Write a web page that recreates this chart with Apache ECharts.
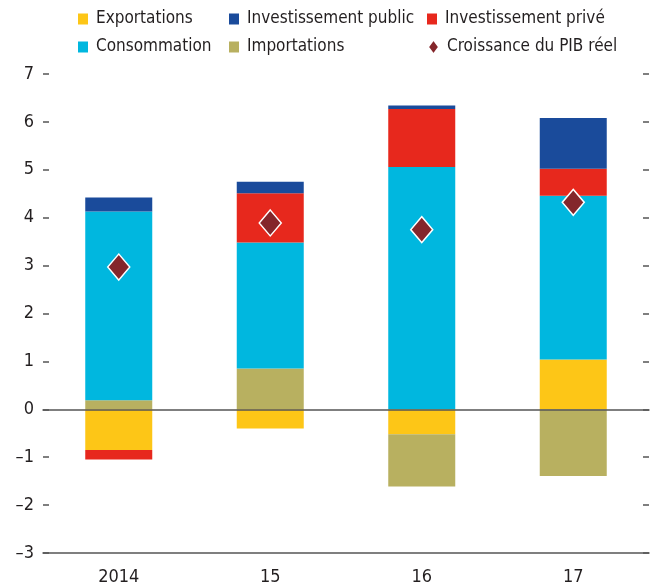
<!DOCTYPE html>
<html>
<head>
<meta charset="utf-8">
<script src="https://cdn.jsdelivr.net/npm/echarts@6/dist/echarts.min.js"></script>
<style>
  html, body { margin: 0; padding: 0; background: #fff; }
  #chart { width: 654px; height: 586px; }
</style>
</head>
<body>
<div id="chart"></div>
<script>
var years = ['2014', '15', '16', '17']
var exportations = [-0.85, -0.40, -0.52, 1.04]
var importations = [0.19, 0.85, -1.09, -1.39]
var consommation = [3.94, 2.63, 5.06, 3.42]
var investPrive = [-0.20, 1.03, 1.21, 0.56]
var investPublic = [0.29, 0.24, 0.07, 1.06]
var pibReel = [2.97, 3.89, 3.75, 4.32]

var font = '"DejaVu Sans Condensed", "Liberation Sans Narrow", sans-serif'
var textColor = '#231f20'

function dash(v) {
  return String(v).replace('-', '\u2013')
}

var chart = echarts.init(document.getElementById('chart'))

var legendText = {
  fontFamily: font,
  fontSize: 17,
  lineHeight: 20,
  color: textColor,
  padding: [0, 0, 0, 3]
}

// one legend per cell so the columns line up like the original
function legendCell(name, left, top, icon, w, h) {
  return {
    left: left,
    top: top,
    itemWidth: w || 10,
    itemHeight: h || 11,
    icon: icon || 'rect',
    textStyle: legendText,
    data: [name]
  }
}

function barSeries(name, data, color) {
  return {
    name: name,
    type: 'bar',
    stack: 'total',
    barWidth: 67,
    itemStyle: { color: color },
    data: data
  }
}

chart.setOption({
  backgroundColor: '#fff',
  animation: false,
  legend: [
    legendCell('Exportations', 73, 4),
    legendCell('Consommation', 73, 32),
    legendCell('Investissement public', 224, 4),
    legendCell('Importations', 224, 32),
    legendCell('Investissement privé', 422, 4),
    legendCell('Croissance du PIB réel', 422, 32, 'diamond', 11, 15)
  ],
  grid: {
    left: 43,
    right: 5,
    top: 74,
    bottom: 33
  },
  xAxis: [{
    type: 'category',
    data: years,
    position: 'bottom',
    axisLine: { onZero: false, lineStyle: { color: '#555', width: 1.5 } },
    axisTick: { inside: true, length: 6, lineStyle: { color: '#555', width: 1.5 } },
    axisLabel: { margin: 15, fontFamily: font, fontSize: 18, color: textColor }
  }, {
    type: 'category',
    data: years,
    position: 'bottom',
    z: 10,
    axisLine: { onZero: true, lineStyle: { color: '#555', width: 1.5 } },
    axisTick: { show: false },
    axisLabel: { show: false }
  }],
  yAxis: [{
    type: 'value',
    min: -3,
    max: 7,
    interval: 1,
    axisLine: { show: false },
    axisTick: { show: true, inside: true, length: 6, lineStyle: { color: '#555', width: 1.5 } },
    axisLabel: { margin: 9, fontFamily: font, fontSize: 18, color: textColor, formatter: dash },
    splitLine: { show: false }
  }, {
    type: 'value',
    position: 'right',
    min: -3,
    max: 7,
    interval: 1,
    axisLine: { show: false },
    axisTick: { show: true, inside: true, length: 6, lineStyle: { color: '#555', width: 1.5 } },
    axisLabel: { show: false },
    splitLine: { show: false }
  }],
  series: [
    barSeries('Exportations', exportations, '#fdc617'),
    barSeries('Importations', importations, '#b8b060'),
    barSeries('Consommation', consommation, '#00b7df'),
    barSeries('Investissement privé', investPrive, '#e7281d'),
    barSeries('Investissement public', investPublic, '#1a4b9b'),
    {
      name: 'Croissance du PIB réel',
      type: 'scatter',
      symbol: 'diamond',
      symbolSize: [22, 26],
      z: 5,
      itemStyle: { color: '#84262b', opacity: 1, borderColor: '#fff', borderWidth: 1.5 },
      data: pibReel
    }
  ]
})
</script>
</body>
</html>
